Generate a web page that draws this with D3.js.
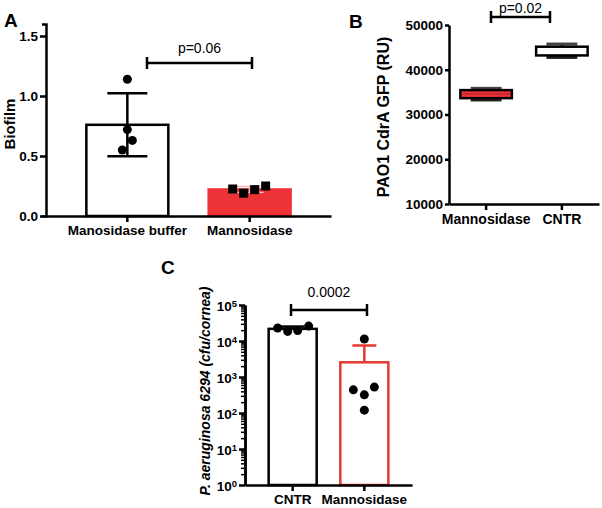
<!DOCTYPE html>
<html>
<head>
<meta charset="utf-8">
<script src="https://cdn.jsdelivr.net/npm/d3@7"></script>
<style>
  body { margin: 0; background: #fff; }
  svg { display: block; font-family: "Liberation Sans", Arial, Helvetica, sans-serif; }
  .axis path, .axis line { stroke: #000; stroke-width: 2.5px; }
  .axis text { font-size: 13.5px; font-weight: bold; fill: #000; }
</style>
</head>
<body>
<div id="chart"></div>
<script>
// ---- data ----
const biofilmGroups = ['Manosidase buffer', 'Mannosidase'];
const biofilmBuffer = [1.14, 0.72, 0.63, 0.55];
const biofilmMannosidase = [0.225, 0.19, 0.22, 0.25];
const biofilmTicks = [0, 0.5, 1.0, 1.5];

const gfpGroups = ['Mannosidase', 'CNTR'];
const gfpMin = [33250, 42750];
const gfpQ1 = [33650, 43200];
const gfpMedian = [34600, 44200];
const gfpQ3 = [35450, 45150];
const gfpMax = [35850, 45750];
const gfpTicks = [10000, 20000, 30000, 40000, 50000];

const cfuGroups = ['CNTR', 'Mannosidase'];
const cfuCNTR = [23000, 18500, 19500, 26000];
const cfuMannosidase = [11400, 440, 320, 525, 120];
const cfuDecades = [0, 1, 2, 3, 4, 5];

const RED = '#ee3338';
const width = 602, height = 508;

const svg = d3.select('#chart').append('svg')
  .attr('width', width).attr('height', height);

function sd(arr) {
  return d3.deviation(arr);
}

function sigBar(x1, x2, y, label, ty, size) {
  const g = svg.append('g').attr('stroke', '#000').attr('stroke-width', 2.5);
  g.append('line').attr('x1', x1).attr('x2', x2).attr('y1', y).attr('y2', y);
  g.append('line').attr('x1', x1).attr('x2', x1).attr('y1', y - 6).attr('y2', y + 6);
  g.append('line').attr('x1', x2).attr('x2', x2).attr('y1', y - 6).attr('y2', y + 6);
  svg.append('text')
    .attr('x', (x1 + x2) / 2).attr('y', ty)
    .attr('text-anchor', 'middle')
    .style('font-size', size + 'px')
    .text(label);
}

function panelLetter(x, y, t) {
  svg.append('text').attr('x', x).attr('y', y)
    .style('font-size', '19px').style('font-weight', 'bold').text(t);
}

// ================= Panel A : biofilm bar chart =================
(function () {
  const left = 46, right = 331, top = 24, bottom = 216;
  const x = d3.scaleBand().domain(biofilmGroups).range([left, right]).padding(0.33);
  const y = d3.scaleLinear().domain([0, 1.6]).range([bottom, top]);

  const series = [biofilmBuffer, biofilmMannosidase];

  // bars
  svg.append('g').selectAll('rect')
    .data(series)
    .join('rect')
    .attr('x', (d, i) => x(biofilmGroups[i]))
    .attr('width', x.bandwidth())
    .attr('y', d => y(d3.mean(d)))
    .attr('height', d => bottom - y(d3.mean(d)))
    .attr('fill', (d, i) => i === 0 ? '#fff' : RED)
    .attr('stroke', (d, i) => i === 0 ? '#000' : RED)
    .attr('stroke-width', 2.5);

  // error bars (mean ± SD)
  series.forEach((d, i) => {
    const cx = x(biofilmGroups[i]) + x.bandwidth() / 2;
    const m = d3.mean(d), s = sd(d);
    const col = i === 0 ? '#000' : '#f7b5b7';
    const w = i === 0 ? 20 : 14;
    const g = svg.append('g').attr('stroke', col).attr('stroke-width', i === 0 ? 2.5 : 1.5);
    g.append('line').attr('x1', cx).attr('x2', cx).attr('y1', y(m - s)).attr('y2', y(m + s));
    g.append('line').attr('x1', cx - w).attr('x2', cx + w).attr('y1', y(m + s)).attr('y2', y(m + s));
    g.append('line').attr('x1', cx - w).attr('x2', cx + w).attr('y1', y(m - s)).attr('y2', y(m - s));
  });

  // points
  const jitterA = [0, 0, 5, -5];
  const cx0 = x(biofilmGroups[0]) + x.bandwidth() / 2;
  svg.append('g').selectAll('circle')
    .data(biofilmBuffer)
    .join('circle')
    .attr('cx', (d, i) => cx0 + jitterA[i])
    .attr('cy', d => y(d))
    .attr('r', 4.5);

  const jitterB = [-17, -6, 5, 16];
  const cx1 = x(biofilmGroups[1]) + x.bandwidth() / 2;
  svg.append('g').selectAll('rect')
    .data(biofilmMannosidase)
    .join('rect')
    .attr('x', (d, i) => cx1 + jitterB[i] - 4.5)
    .attr('y', d => y(d) - 4.5)
    .attr('width', 9).attr('height', 9);

  // axes
  svg.append('g').attr('class', 'axis')
    .attr('transform', `translate(${left},0)`)
    .call(d3.axisLeft(y).tickValues(biofilmTicks).tickFormat(d3.format('.1f')).tickSize(6).tickSizeOuter(4).tickPadding(2));
  svg.append('g').attr('class', 'axis')
    .attr('transform', `translate(0,${bottom})`)
    .call(d3.axisBottom(x).tickSize(6).tickSizeOuter(0).tickPadding(3));

  svg.append('text')
    .attr('transform', `translate(15,124) rotate(-90)`)
    .attr('text-anchor', 'middle')
    .style('font-size', '15px').style('font-weight', 'bold')
    .text('Biofilm');

  sigBar(147, 252, 63, 'p=0.06', 53, 14);
  panelLetter(4, 27, 'A');
})();

// ================= Panel B : CdrA GFP box plot =================
(function () {
  const left = 449, right = 599, top = 25, bottom = 204;
  const x = d3.scaleBand().domain(gfpGroups).range([left, right]).paddingInner(0.32).paddingOuter(0.15);
  const y = d3.scaleLinear().domain([10000, 50000]).range([bottom, top]);

  gfpGroups.forEach((grp, i) => {
    const bx = x(grp), bw = x.bandwidth(), cx = bx + bw / 2;
    const g = svg.append('g');
    const capW = bw * 0.3;
    // whiskers
    g.append('line').attr('x1', cx).attr('x2', cx).attr('y1', y(gfpMax[i])).attr('y2', y(gfpMin[i]))
      .attr('stroke', '#000').attr('stroke-width', 2.5);
    g.append('line').attr('x1', cx - capW).attr('x2', cx + capW).attr('y1', y(gfpMax[i])).attr('y2', y(gfpMax[i]))
      .attr('stroke', '#444').attr('stroke-width', 3);
    g.append('line').attr('x1', cx - capW).attr('x2', cx + capW).attr('y1', y(gfpMin[i])).attr('y2', y(gfpMin[i]))
      .attr('stroke', '#222').attr('stroke-width', 3);
    // box
    g.append('rect').attr('x', bx).attr('width', bw)
      .attr('y', y(gfpQ3[i])).attr('height', y(gfpQ1[i]) - y(gfpQ3[i]))
      .attr('fill', i === 0 ? RED : '#fff')
      .attr('stroke', '#000').attr('stroke-width', 2.5);
    // median
    g.append('line').attr('x1', bx + 2).attr('x2', bx + bw - 2)
      .attr('y1', y(gfpMedian[i])).attr('y2', y(gfpMedian[i]))
      .attr('stroke', i === 0 ? '#c0272d' : '#fff').attr('stroke-width', 1.5);
  });

  svg.append('g').attr('class', 'axis')
    .attr('transform', `translate(${left},0)`)
    .call(d3.axisLeft(y).tickValues(gfpTicks).tickFormat(d3.format('d')).tickSize(4).tickSizeOuter(0).tickPadding(2))
    .selectAll('text').style('font-size', '13.5px');
  svg.append('g').attr('class', 'axis')
    .attr('transform', `translate(0,${bottom})`)
    .call(d3.axisBottom(x).tickSize(6).tickSizeOuter(0).tickPadding(4))
    .selectAll('text').style('font-size', '14px');

  svg.append('text')
    .attr('transform', `translate(389,117) rotate(-90)`)
    .attr('text-anchor', 'middle')
    .style('font-size', '16px').style('font-weight', 'bold')
    .text('PAO1 CdrA GFP (RU)');

  sigBar(491, 550, 17, 'p=0.02', 13, 14);
  panelLetter(349, 28, 'B');
})();

// ================= Panel C : cfu/cornea log bar chart =================
(function () {
  const left = 245, right = 412, top = 305, bottom = 485;
  const x = d3.scaleBand().domain(cfuGroups).range([left, right]).padding(0.33);
  const y = d3.scaleLog().domain([1, 1e5]).range([bottom, top]);

  const series = [cfuCNTR, cfuMannosidase];
  const cols = ['#000', '#e53a33'];

  series.forEach((d, i) => {
    const bx = x(cfuGroups[i]), bw = x.bandwidth(), cx = bx + bw / 2;
    const m = d3.mean(d), s = sd(d);
    const g = svg.append('g').attr('stroke', cols[i]).attr('stroke-width', 2.5);
    g.append('line').attr('x1', cx).attr('x2', cx).attr('y1', y(m)).attr('y2', y(m + s));
    g.append('line').attr('x1', cx - 12).attr('x2', cx + 12).attr('y1', y(m + s)).attr('y2', y(m + s));
    g.append('rect').attr('x', bx).attr('width', bw)
      .attr('y', y(m)).attr('height', bottom - y(m))
      .attr('fill', 'none');
  });

  const jitterC = [-15, -5, 5, 16];
  const jitterM = [0, -11, 0, 10, 0];
  const c0 = x(cfuGroups[0]) + x.bandwidth() / 2;
  const c1 = x(cfuGroups[1]) + x.bandwidth() / 2;
  svg.append('g').selectAll('circle')
    .data(cfuCNTR).join('circle')
    .attr('cx', (d, i) => c0 + jitterC[i]).attr('cy', d => y(d)).attr('r', 4.5);
  svg.append('g').selectAll('circle')
    .data(cfuMannosidase).join('circle')
    .attr('cx', (d, i) => c1 + jitterM[i]).attr('cy', d => y(d)).attr('r', 4.5);

  // minor log ticks
  const minor = [];
  cfuDecades.slice(0, -1).forEach(e => {
    for (let k = 2; k <= 9; k++) minor.push(k * Math.pow(10, e));
  });
  svg.append('g').attr('class', 'axis')
    .attr('transform', `translate(${left},0)`)
    .call(d3.axisLeft(y).tickValues(minor).tickFormat('').tickSize(4).tickSizeOuter(0))
    .selectAll('line').style('stroke-width', '1.5px');

  const majors = cfuDecades.map(e => Math.pow(10, e));
  const yAxis = svg.append('g').attr('class', 'axis')
    .attr('transform', `translate(${left},0)`)
    .call(d3.axisLeft(y).tickValues(majors).tickFormat('').tickSize(6).tickSizeOuter(0));
  yAxis.selectAll('.tick').each(function (d, i) {
    const t = d3.select(this).append('text')
      .attr('x', -8).attr('dy', '0.4em')
      .attr('text-anchor', 'end');
    t.append('tspan').text('10');
    t.append('tspan').attr('dy', '-0.45em').style('font-size', '9.5px').text(cfuDecades[i]);
  });

  svg.append('g').attr('class', 'axis')
    .attr('transform', `translate(0,${bottom})`)
    .call(d3.axisBottom(x).tickSize(6).tickSizeOuter(0).tickPadding(3));

  svg.append('text')
    .attr('transform', `translate(210,391) rotate(-90)`)
    .attr('text-anchor', 'middle')
    .style('font-size', '14px').style('font-weight', 'bold').style('font-style', 'italic')
    .text('P. aeruginosa 6294 (cfu/cornea)');

  sigBar(291, 367, 310, '0.0002', 297, 14);
  panelLetter(161, 274, 'C');
})();
</script>
</body>
</html>
